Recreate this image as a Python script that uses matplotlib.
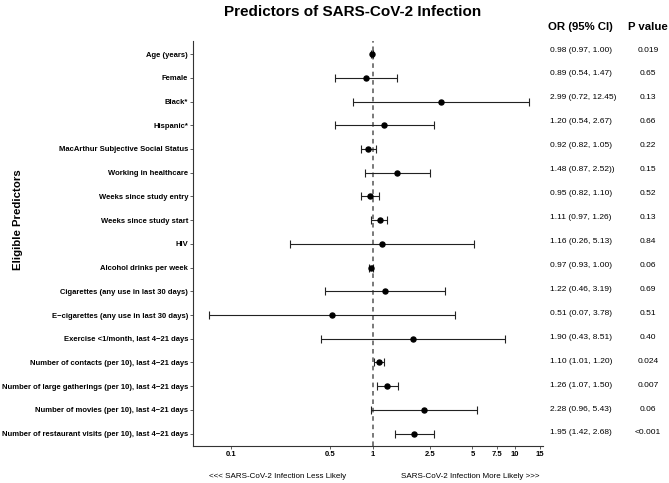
import matplotlib
matplotlib.use("Agg")
import matplotlib.pyplot as plt

plt.rcParams['font.family'] = ['Liberation Sans', 'DejaVu Sans']

# Daten (von oben nach unten)
predictors = [
    "Age (years)",
    "Female",
    "Black*",
    "Hispanic*",
    "MacArthur Subjective Social Status",
    "Working in healthcare",
    "Weeks since study entry",
    "Weeks since study start",
    "HIV",
    "Alcohol drinks per week",
    "Cigarettes (any use in last 30 days)",
    "E\u2212cigarettes (any use in last 30 days)",
    "Exercise <1/month, last 4\u221221 days",
    "Number of contacts (per 10), last 4\u221221 days",
    "Number of large gatherings (per 10), last 4\u221221 days",
    "Number of movies (per 10), last 4\u221221 days",
    "Number of restaurant visits (per 10), last 4\u221221 days",
]
odds_ratio = [0.98, 0.89, 2.99, 1.20, 0.92, 1.48, 0.95, 1.11, 1.16, 0.97,
              1.22, 0.51, 1.90, 1.10, 1.26, 2.28, 1.95]
ci_low = [0.97, 0.54, 0.72, 0.54, 0.82, 0.87, 0.82, 0.97, 0.26, 0.93,
          0.46, 0.07, 0.43, 1.01, 1.07, 0.96, 1.42]
ci_high = [1.00, 1.47, 12.45, 2.67, 1.05, 2.52, 1.10, 1.26, 5.13, 1.00,
           3.19, 3.78, 8.51, 1.20, 1.50, 5.43, 2.68]
p_values = ["0.019", "0.65", "0.13", "0.66", "0.22", "0.15", "0.52", "0.13",
            "0.84", "0.06", "0.69", "0.51", "0.40", "0.024", "0.007", "0.06",
            "<0.001"]
or_text = ["0.98 (0.97, 1.00)", "0.89 (0.54, 1.47)", "2.99 (0.72, 12.45)",
           "1.20 (0.54, 2.67)", "0.92 (0.82, 1.05)", "1.48 (0.87, 2.52))",
           "0.95 (0.82, 1.10)", "1.11 (0.97, 1.26)", "1.16 (0.26, 5.13)",
           "0.97 (0.93, 1.00)", "1.22 (0.46, 3.19)", "0.51 (0.07, 3.78)",
           "1.90 (0.43, 8.51)", "1.10 (1.01, 1.20)", "1.26 (1.07, 1.50)",
           "2.28 (0.96, 5.43)", "1.95 (1.42, 2.68)"]
x_ticks = [0.1, 0.5, 1, 2.5, 5, 7.5, 10, 15]
x_tick_labels = ["0.1", "0.5", "1", "2.5", "5", "7.5", "10", "15"]

W, H = 669, 483
fig = plt.figure(figsize=(W / 100, H / 100), dpi=100)

# Pixel -> Figurkoordinaten
def fx(px):
    return px / W

def fy(py):
    return 1 - py / H

ax_l, ax_r, ax_t, ax_b = 193, 543, 41, 446
ax = fig.add_axes([fx(ax_l), fy(ax_b), fx(ax_r - ax_l), (ax_b - ax_t) / H])

rows = list(range(1, len(predictors) + 1))
err_low = [o - l for o, l in zip(odds_ratio, ci_low)]
err_high = [h - o for o, h in zip(odds_ratio, ci_high)]

ax.axvline(1, color="#555555", linestyle=(0, (3, 2.5)), linewidth=1.1, zorder=1)
ax.errorbar(odds_ratio, rows, xerr=[err_low, err_high], fmt="o", color="black",
            ecolor="#222222", elinewidth=0.8, capsize=2.9, capthick=0.8,
            markersize=3.6, zorder=3)

ax.set_xscale("log")
ax.set_xlim(0.054, 15.7)
ax.set_ylim(len(predictors) + 0.52, 0.45)
ax.set_xticks(x_ticks)
ax.set_xticklabels(x_tick_labels, fontsize=5.5, fontweight="bold")
ax.minorticks_off()
ax.set_yticks(rows)
ax.set_yticklabels(predictors, fontsize=5.5, fontweight="bold")
ax.tick_params(axis="both", length=2, width=0.6, pad=1.5, color="#444444")

for side in ["top", "right"]:
    ax.spines[side].set_visible(False)
for side in ["left", "bottom"]:
    ax.spines[side].set_linewidth(0.8)
    ax.spines[side].set_color("#333333")

# Titel und Achsenbeschriftungen
fig.text(fx(353), fy(12), "Predictors of SARS-CoV-2 Infection", fontsize=11,
         fontweight="bold", ha="center", va="center")
fig.text(fx(18), fy(220), "Eligible Predictors", fontsize=8.2, fontweight="bold",
         rotation=90, ha="center", va="center")
fig.text(fx(278), fy(476), "<<< SARS-CoV-2 Infection Less Likely", fontsize=5.8,
         ha="center", va="center")
fig.text(fx(470), fy(476), "SARS-CoV-2 Infection More Likely >>>", fontsize=5.8,
         ha="center", va="center")

# Tabelle rechts (OR und P-Wert)
fig.text(fx(580), fy(27), "OR (95% CI)", fontsize=8.2, fontweight="bold",
         ha="center", va="center")
fig.text(fx(648), fy(27), "P value", fontsize=8.2, fontweight="bold",
         ha="center", va="center")
for i in range(len(predictors)):
    y = 50 + i * (433 - 50) / (len(predictors) - 1)
    fig.text(fx(550), fy(y), or_text[i], fontsize=6.0, ha="left", va="center")
    fig.text(fx(648), fy(y), p_values[i], fontsize=6.0, ha="center", va="center")

fig.savefig("out.png", dpi=100)
